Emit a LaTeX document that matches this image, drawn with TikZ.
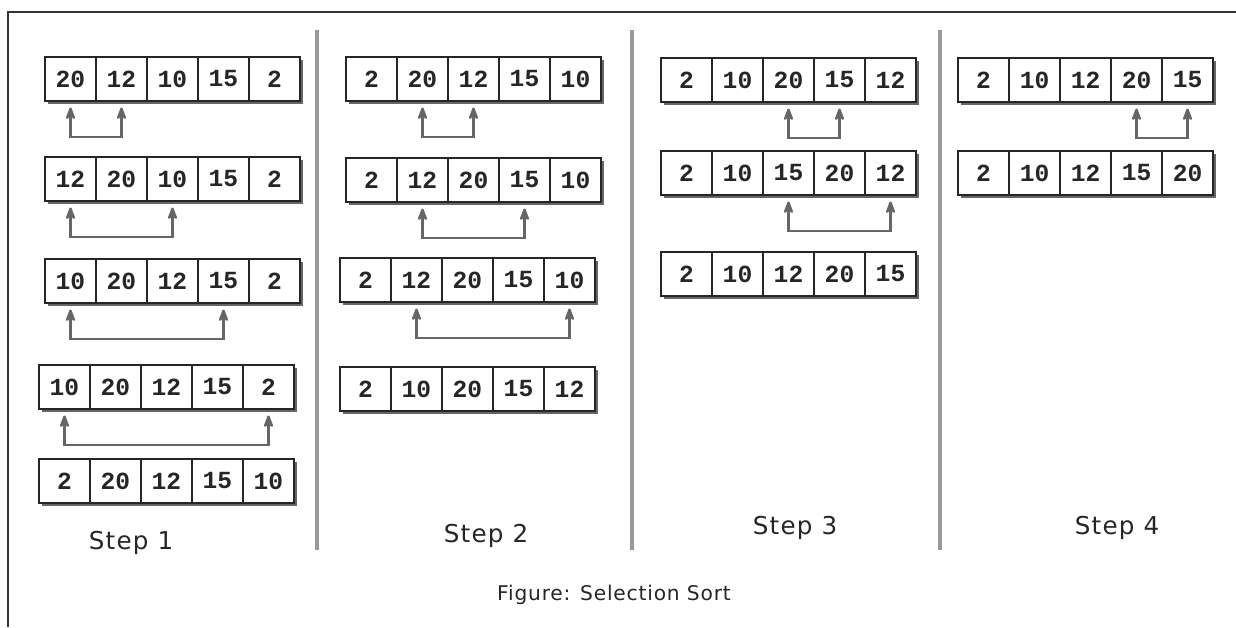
\documentclass[tikz,border=0pt]{standalone}
\usepackage{fontspec}
\newfontfamily\cellfont{Liberation Mono}
\newfontfamily\labelfont{DejaVu Sans}[LetterSpace=5]
\newfontfamily\capfont{DejaVu Sans}[LetterSpace=4]
\usepackage{tikz}
\usetikzlibrary{arrows.meta,calc}
\tikzset{
  cell/.style={rectangle, draw=black!85, line width=0.9pt, fill=white, anchor=north west,
    minimum width=1.02cm, minimum height=0.88cm, inner sep=0pt, outer sep=0pt,
    font=\cellfont\bfseries\fontsize{14}{16}\selectfont, text=black!85},
  rowshade/.style={fill=black!60},
  swp/.style={{Stealth[length=3.2mm, width=2.4mm, round]}-{Stealth[length=3.2mm, width=2.4mm, round]},
    line width=1.3pt, color=black!60, shorten <=1.3mm, shorten >=1.3mm},
  divider/.style={line width=2pt, color=black!40},
  frame/.style={line width=1.2pt, color=black!80},
  steplbl/.style={font=\labelfont\fontsize{14}{16}\selectfont, text=black!85},
  caplbl/.style={font=\capfont\fontsize{11.5}{13}\selectfont, text=black!85}
}

\begin{document}
\begin{tikzpicture}[x=0.02cm, y=-0.02cm]
\useasboundingbox (0,0) rectangle (1236,627);
\draw[frame] (1236,12) -| (8,627);
% column dividers
\draw[divider] (317,30) -- (317,550);
\draw[divider] (632,30) -- (632,550);
\draw[divider] (940,30) -- (940,550);
% arrays: name/left/top/values
\foreach \nm/\x/\y/\vals in {
    s1r1/45/57/{20,12,10,15,2}, s1r2/45/157/{12,20,10,15,2},
    s1r3/45/259/{10,20,12,15,2}, s1r4/39/365/{10,20,12,15,2},
    s1r5/39/459/{2,20,12,15,10},
    s2r1/346/57/{2,20,12,15,10}, s2r2/346/158/{2,12,20,15,10},
    s2r3/340/258/{2,12,20,15,10}, s2r4/340/367/{2,10,20,15,12},
    s3r1/661/58/{2,10,20,15,12}, s3r2/661/151/{2,10,15,20,12},
    s3r3/661/252/{2,10,12,20,15},
    s4r1/958/58/{2,10,12,20,15}, s4r2/958/151/{2,10,12,15,20}} {
  \fill[rowshade] ({\x+3},{\y+3}) rectangle ++(255,44);
  \foreach \v [count=\i] in \vals
    \node[cell] (\nm-\i) at ({\x+(\i-1)*51},\y) {\v};
}
% swaps
\foreach \a/\b in {s1r1-1/s1r1-2, s1r2-1/s1r2-3, s1r3-1/s1r3-4, s1r4-1/s1r4-5,
    s2r1-2/s2r1-3, s2r2-2/s2r2-4, s2r3-2/s2r3-5,
    s3r1-3/s3r1-4, s3r2-3/s3r2-5, s4r1-4/s4r1-5}
  \draw[swp] (\a.south) -- ++(0,36) -| (\b.south);
\node[steplbl] (step1) at (131,543) {Step 1};
\node[steplbl] (step2) at (486,536) {Step 2};
\node[steplbl] (step3) at (795,528) {Step 3};
\node[steplbl] (step4) at (1117,528) {Step 4};
\node[caplbl] (cap) at (614,595) {Figure: Selection Sort};
\end{tikzpicture}
\end{document}
